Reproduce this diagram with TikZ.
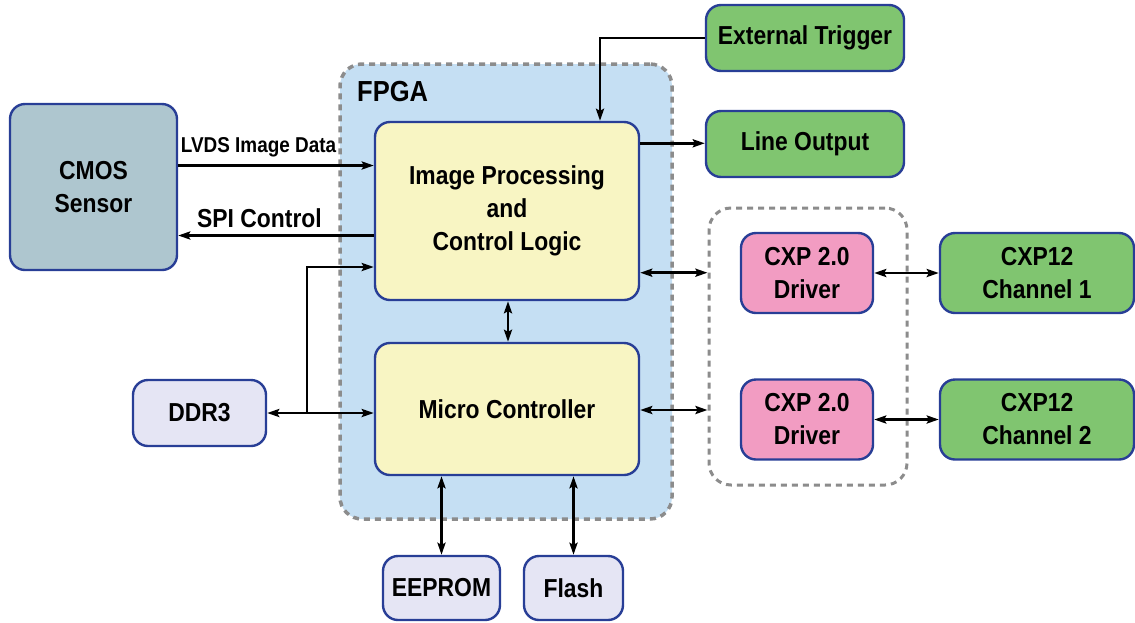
\documentclass[tikz,border=0pt]{standalone}
\usepackage{fontspec}
\setmainfont{Liberation Sans}[FakeStretch=0.88]
\usetikzlibrary{arrows.meta}
\definecolor{bdr}{RGB}{40,62,150}
\definecolor{cmosc}{RGB}{174,198,207}
\definecolor{fpgac}{RGB}{197,223,243}
\definecolor{dotc}{RGB}{140,140,140}
\definecolor{yel}{RGB}{248,245,195}
\definecolor{grn}{RGB}{128,197,112}
\definecolor{pnk}{RGB}{242,156,194}
\definecolor{lav}{RGB}{229,229,244}
\tikzset{
  blk/.style={draw=bdr, line width=2.4pt, rounded corners=15pt, align=center,
    font=\fontsize{26}{33}\selectfont\bfseries, inner sep=0pt},
  dotbox/.style={draw=dotc, line width=3.5pt, dash pattern=on 6pt off 5pt, rounded corners=22pt},
  arr/.style={line width=2.8pt, -{Stealth[length=12pt,width=8pt,inset=2pt]}},
  darr/.style={line width=2.8pt, {Stealth[length=12pt,width=8pt,inset=2pt]}-{Stealth[length=12pt,width=8pt,inset=2pt]}},
  lbl/.style={font=\fontsize{26}{30}\selectfont\bfseries, inner sep=0pt}
}
\begin{document}
\begin{tikzpicture}[x=1pt,y=-1pt]
\useasboundingbox (0,0) rectangle (1135,622);
% FPGA container
\node[dotbox, fill=fpgac, minimum width=332pt, minimum height=455pt] (fpga) at (506,291.5) {};
\node[lbl, font=\fontsize{29}{30}\selectfont\bfseries, anchor=west] (fpgalbl) at (357,92) {FPGA};
% CXP container
\node[dotbox, line width=3pt, minimum width=198pt, minimum height=277pt] (cxpbox) at (808,346.5) {};
% blocks
\node[blk, fill=cmosc, minimum width=167pt, minimum height=166pt] (cmos) at (93.5,187) {CMOS\\Sensor};
\node[blk, fill=yel, minimum width=264pt, minimum height=178pt] (ipc) at (507,211) {Image Processing\\and\\Control Logic};
\node[blk, fill=yel, minimum width=264pt, minimum height=132pt] (mc) at (507,409) {Micro Controller};
\node[blk, fill=grn, minimum width=198pt, minimum height=66pt] (ext) at (805,38) {External Trigger};
\node[blk, fill=grn, minimum width=198pt, minimum height=66pt] (lo) at (805,144) {Line Output};
\node[blk, fill=pnk, minimum width=132pt, minimum height=80pt] (d1) at (807,273) {CXP 2.0\\Driver};
\node[blk, fill=pnk, minimum width=132pt, minimum height=80pt] (d2) at (807,419.5) {CXP 2.0\\Driver};
\node[blk, fill=grn, minimum width=194pt, minimum height=80pt] (c1) at (1037,273) {CXP12\\Channel 1};
\node[blk, fill=grn, minimum width=194pt, minimum height=80pt] (c2) at (1037,419.5) {CXP12\\Channel 2};
\node[blk, fill=lav, minimum width=133pt, minimum height=66pt] (ddr) at (199.5,413) {DDR3};
\node[blk, fill=lav, minimum width=117pt, minimum height=64pt] (eep) at (441.5,588) {EEPROM};
\node[blk, fill=lav, minimum width=99pt, minimum height=64pt] (fl) at (573.5,588) {Flash};
% labels
\node[lbl, font=\fontsize{21.5}{24}\selectfont\bfseries] (lvdslbl) at (258.5,147) {LVDS Image Data};
\node[lbl] (spilbl) at (259.5,218) {SPI Control};
% connectors
\draw[arr] (cmos.east |- 0,165.5) -- (ipc.west |- 0,165.5);
\draw[arr] (ipc.west |- 0,235.5) -- (cmos.east |- 0,235.5);
\draw[arr] (ext.west) -| (ipc.north -| 600,0);
\draw[arr] (ipc.east |- 0,143.3) -- (lo.west |- 0,143.3);
\draw[darr] (ipc.east |- 0,272.7) -- (cxpbox.west |- 0,272.7);
\draw[darr] (mc.east |- 0,410) -- (cxpbox.west |- 0,410);
\draw[darr] (d1.east) -- (c1.west);
\draw[darr] (d2.east) -- (c2.west);
\draw[darr] (ipc.south -| 508,0) -- (mc.north -| 508,0);
\draw[darr] (ddr.east) -- (mc.west |- ddr.east);
\coordinate (jn) at (307,413);
\draw[arr] (jn) |- (ipc.west |- 0,267);
\draw[darr] (eep.north |- mc.south) -- (eep.north);
\draw[darr] (fl.north |- mc.south) -- (fl.north);
\end{tikzpicture}
\end{document}
